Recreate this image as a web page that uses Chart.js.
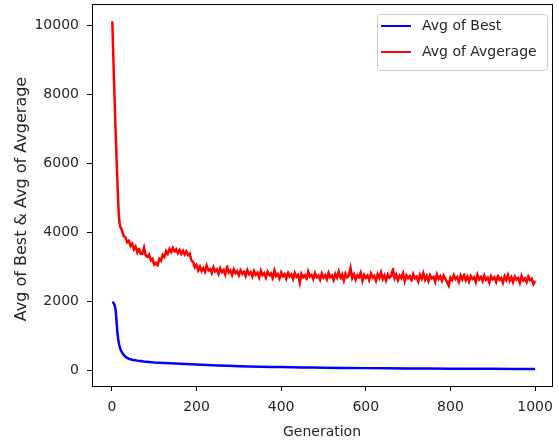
<!DOCTYPE html>
<html>
<head>
<meta charset="utf-8">
<script src="https://cdn.jsdelivr.net/npm/chart.js@4"></script>
<style>
  html, body { margin: 0; padding: 0; background: #fff; }
  canvas { display: block; }
</style>
</head>
<body>
<canvas id="genChart" width="558" height="444"></canvas>
<script>
// Avg of Best, sampled (smooth curve)
const bestGen = [1, 3, 5, 7, 9, 11, 13, 15, 17, 19, 21, 25, 30, 35, 40, 50, 60, 75, 100, 125, 150, 175, 200, 250, 300, 350, 400, 450, 500, 600, 700, 800, 900, 1000];
const bestVals = [1950, 1965, 1930, 1860, 1740, 1420, 1100, 900, 760, 660, 590, 500, 420, 370, 340, 305, 285, 260, 230, 215, 200, 185, 170, 145, 125, 110, 98, 88, 80, 68, 58, 52, 47, 42];

// Avg of Avgerage (noisy)
const avgGen = [
  1, 2, 3, 4, 5, 6, 7, 8, 9, 10, 11, 12, 13, 14, 15, 16, 17, 18, 19, 20,
  24, 28, 32, 36, 40, 44, 48, 52, 56, 60, 64, 68, 72, 76, 80, 84, 88, 92, 96, 100,
  104, 108, 112, 116, 120, 124, 128, 132, 136, 140, 144, 148, 152, 156, 160, 164, 168, 172, 176, 180, 184, 188, 192, 196, 200,
  204, 208, 212, 216, 220, 224, 228, 232, 236, 240, 244, 248, 252, 256, 260, 264, 268, 272, 276, 280, 284, 288, 292, 296, 300,
  304, 308, 312, 316, 320, 324, 328, 332, 336, 340, 344, 348, 352, 356, 360, 364, 368, 372, 376, 380, 384, 388, 392, 396, 400,
  404, 408, 412, 416, 420, 424, 428, 432, 436, 440, 444, 448, 452, 456, 460, 464, 468, 472, 476, 480, 484, 488, 492, 496, 500,
  504, 508, 512, 516, 520, 524, 528, 532, 536, 540, 544, 548, 552, 556, 560, 564, 568, 572, 576, 580, 584, 588, 592, 596, 600,
  604, 608, 612, 616, 620, 624, 628, 632, 636, 640, 644, 648, 652, 656, 660, 664, 668, 672, 676, 680, 684, 688, 692, 696, 700,
  704, 708, 712, 716, 720, 724, 728, 732, 736, 740, 744, 748, 752, 756, 760, 764, 768, 772, 776, 780, 784, 788, 792, 796, 800,
  804, 808, 812, 816, 820, 824, 828, 832, 836, 840, 844, 848, 852, 856, 860, 864, 868, 872, 876, 880, 884, 888, 892, 896, 900,
  904, 908, 912, 916, 920, 924, 928, 932, 936, 940, 944, 948, 952, 956, 960, 964, 968, 972, 976, 980, 984, 988, 992, 996, 1000
];
const avgVals = [
  10120, 9680, 9250, 8830, 8420, 8020, 7630, 7250, 6880, 6520, 6170, 5830, 5500, 5180, 4870, 4600, 4420, 4300, 4220, 4160,
  4050, 3890, 3860, 3720, 3760, 3610, 3680, 3510, 3590, 3420, 3530, 3380, 3380, 3560, 3330, 3290, 3360, 3190, 3230, 3070,
  3120, 3040, 3230, 3180, 3350, 3290, 3460, 3380, 3520, 3430, 3550, 3440, 3510, 3400, 3490, 3380, 3470, 3360, 3450, 3340, 3380, 3180, 3150, 2990, 3060,
  2900, 3010, 2880, 2970, 2860, 3040, 2890, 2950, 2820, 2990, 2870, 2930, 2800, 2960, 2850, 2910, 2780, 3020, 2840, 2900, 2770, 2930, 2820, 2880, 2760,
  2900, 2800, 2870, 2740, 2910, 2790, 2850, 2720, 2880, 2770, 2830, 2700, 2890, 2760, 2820, 2690, 2860, 2750, 2810, 2680, 2900, 2740, 2800, 2670, 2840,
  2730, 2790, 2660, 2850, 2720, 2780, 2650, 2830, 2710, 2770, 2540, 2800, 2700, 2760, 2640, 2870, 2720, 2770, 2650, 2820, 2700, 2750, 2630, 2810, 2690,
  2760, 2640, 2830, 2700, 2750, 2620, 2800, 2690, 2860, 2660, 2780, 2610, 2810, 2700, 2750, 2970, 2680, 2790, 2630, 2760, 2690, 2830, 2600, 2770, 2680,
  2750, 2620, 2810, 2690, 2740, 2600, 2790, 2680, 2840, 2650, 2760, 2610, 2780, 2690, 2730, 2940, 2670, 2780, 2620, 2750, 2680, 2820, 2590, 2760, 2670,
  2730, 2600, 2790, 2670, 2720, 2580, 2770, 2660, 2820, 2630, 2740, 2590, 2760, 2670, 2710, 2570, 2780, 2650, 2730, 2600, 2750, 2660, 2560, 2460, 2690,
  2620, 2760, 2650, 2710, 2570, 2750, 2640, 2790, 2610, 2720, 2580, 2740, 2650, 2700, 2560, 2770, 2640, 2710, 2590, 2750, 2630, 2690, 2550, 2730, 2640,
  2700, 2570, 2750, 2630, 2680, 2540, 2730, 2620, 2770, 2600, 2700, 2560, 2720, 2630, 2680, 2540, 2740, 2610, 2670, 2560, 2720, 2620, 2660, 2500, 2600
];

const xTicks = [0, 200, 400, 600, 800, 1000];
const yTicks = [0, 2000, 4000, 6000, 8000, 10000];

const FONT = 'DejaVu Sans';
const INK = '#262626';

const pts = (xs, ys) => xs.map((x, i) => ({ x: x, y: ys[i] }));

// matplotlib-like frame, y label and legend box
const framePlugin = {
  id: 'frame',
  afterDraw(chart) {
    const { ctx, chartArea: a } = chart;
    ctx.save();
    ctx.strokeStyle = '#000';
    ctx.lineWidth = 1;
    ctx.strokeRect(Math.round(a.left) + 0.5, Math.round(a.top) + 0.5, Math.round(a.right - a.left), Math.round(a.bottom - a.top));

    // y axis label
    ctx.save();
    ctx.translate(22, 199);
    ctx.rotate(-Math.PI / 2);
    ctx.font = '16px "' + FONT + '"';
    ctx.fillStyle = INK;
    ctx.textAlign = 'center';
    ctx.textBaseline = 'middle';
    ctx.fillText('Avg of Best & Avg of Avgerage', 0, 0);
    ctx.restore();

    // legend
    const bx = a.right - 175, by = a.top + 10, bw = 170, bh = 56;
    ctx.beginPath();
    ctx.roundRect(bx + 0.5, by + 0.5, bw, bh, 3);
    ctx.fillStyle = 'rgba(255,255,255,0.8)';
    ctx.fill();
    ctx.strokeStyle = '#cccccc';
    ctx.stroke();
    ctx.font = '14px "' + FONT + '"';
    ctx.textBaseline = 'middle';
    chart.data.datasets.forEach((ds, i) => {
      const y = by + 12 + i * 26;
      ctx.beginPath();
      ctx.moveTo(bx + 4, y);
      ctx.lineTo(bx + 34, y);
      ctx.strokeStyle = ds.borderColor;
      ctx.lineWidth = 2;
      ctx.stroke();
      ctx.fillStyle = INK;
      ctx.fillText(ds.label, bx + 45, y);
    });
    ctx.restore();
  }
};

new Chart(document.getElementById('genChart'), {
  type: 'line',
  data: {
    datasets: [
      { label: 'Avg of Best', data: pts(bestGen, bestVals), borderColor: '#0000ff', borderWidth: 2.5, pointRadius: 0, tension: 0.000001 },
      { label: 'Avg of Avgerage', data: pts(avgGen, avgVals), borderColor: '#ff0000', borderWidth: 2.5, pointRadius: 0, tension: 0.000001 }
    ]
  },
  options: {
    responsive: false,
    animation: false,
    layout: { padding: { top: 4, right: 6, left: 0, bottom: 0 } },
    plugins: { legend: { display: false }, tooltip: { enabled: false } },
    scales: {
      x: {
        type: 'linear',
        min: -47,
        max: 1040,
        afterBuildTicks: s => { s.ticks = xTicks.map(v => ({ value: v })); },
        afterFit: s => { s.height = 58; s.paddingLeft = 0; s.paddingRight = 0; },
        grid: { drawOnChartArea: false, color: '#000', tickLength: 5 },
        border: { display: true, color: '#000' },
        ticks: { color: INK, font: { family: FONT, size: 14 }, padding: 8, maxRotation: 0, callback: v => String(v) },
        title: { display: true, text: 'Generation', color: INK, font: { family: FONT, size: 14 }, padding: { top: 0, bottom: 3 } }
      },
      y: {
        min: -450,
        max: 10620,
        afterBuildTicks: s => { s.ticks = yTicks.map(v => ({ value: v })); },
        afterFit: s => { s.width = 92; s.paddingTop = 0; s.paddingBottom = 0; },
        grid: { drawOnChartArea: false, color: '#000', tickLength: 5 },
        border: { display: true, color: '#000' },
        ticks: { color: INK, font: { family: FONT, size: 14 }, padding: 8, callback: v => String(v) }
      }
    }
  },
  plugins: [framePlugin]
});
</script>
</body>
</html>
